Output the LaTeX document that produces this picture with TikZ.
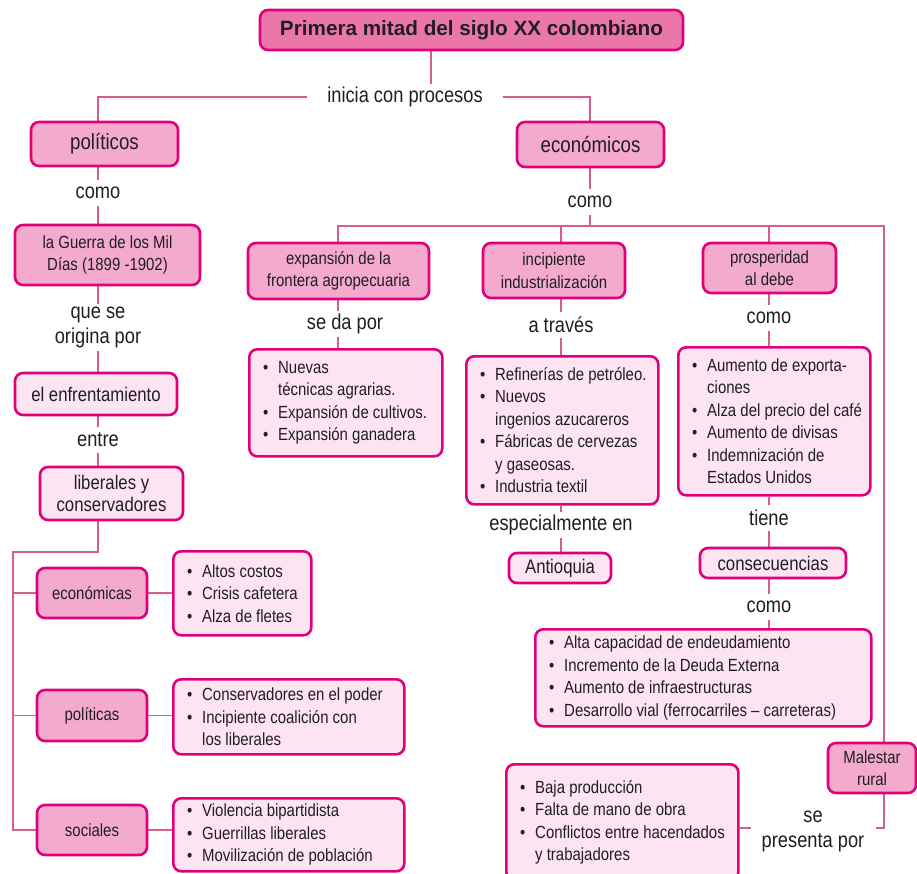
\documentclass[tikz,border=0pt]{standalone}
\usepackage{fontspec}
\setmainfont{Liberation Sans}[FakeStretch=0.85]
\newfontfamily\headfont{Liberation Sans}
\usetikzlibrary{backgrounds,positioning}

\definecolor{rim}{RGB}{226,0,122}
\definecolor{wire}{RGB}{214,92,150}
\definecolor{headfill}{RGB}{235,118,170}
\definecolor{deepfill}{RGB}{243,170,205}
\definecolor{palefill}{RGB}{252,229,240}
\definecolor{ink}{RGB}{32,30,32}

\newcommand{\itm}{\makebox[15pt][l]{\textbullet}}
\newcommand{\ind}{\hspace*{15pt}}

\tikzset{
  box/.style={draw=rim, line width=2.6pt, rounded corners=8pt, align=center, text=ink, inner sep=2pt},
  headbox/.style={box, fill=headfill, font=\headfont\bfseries\fontsize{20.7}{24}\selectfont},
  mainbox/.style={box, fill=deepfill, font=\fontsize{22}{26}\selectfont},
  catbox/.style={box, fill=deepfill, font=\fontsize{17.6}{22.5}\selectfont},
  softbox/.style={box, fill=palefill, font=\fontsize{19.7}{22.5}\selectfont},
  listbox/.style={box, fill=palefill, anchor=north west},
  listtext/.style={inner sep=0pt, anchor=west, align=left, text=ink, font=\fontsize{17.6}{22.5}\selectfont},
  word/.style={text=ink, inner sep=3pt, minimum height=26pt, align=center, font=\fontsize{21.5}{24.5}\selectfont},
  link/.style={draw=wire, line width=1.8pt}
}

\begin{document}
\begin{tikzpicture}[x=1pt,y=-1pt]
  \useasboundingbox (0,0) rectangle (917,874);
  \clip (0,0) rectangle (917,874);

  % top
  \node[headbox, minimum width=423pt, minimum height=40pt] (title) at (471.5,30) {Primera mitad del siglo XX colombiano};
  \coordinate (drop) at (431,66);
  \node[word, inner xsep=20pt] (inicia) at (405,97) {inicia con procesos};
  \node[mainbox, minimum width=147pt, minimum height=44pt] (pol) at (104.5,144) {políticos};
  \node[mainbox, minimum width=147pt, minimum height=45pt] (eco) at (590.5,144.5) {económicos};

  % left column
  \node[word] (como1) at (98,193) {como};
  \node[catbox, minimum width=185pt, minimum height=60pt] (guerra) at (107.5,255) {la Guerra de los Mil\\Días (1899 -1902)};
  \node[word] (origen) at (98,327.5) {que se\\origina por};
  \node[softbox, minimum width=162pt, minimum height=42pt] (choque) at (96,394) {el enfrentamiento};
  \node[word] (entre) at (98,440) {entre};
  \node[softbox, minimum width=143pt, minimum height=53pt] (bandos) at (111.5,493.5) {liberales y\\conservadores};
  \coordinate (rail) at (13,552);
  \node[catbox, minimum width=110pt, minimum height=50pt] (econ) at (92,593) {económicas};
  \node[catbox, minimum width=110pt, minimum height=51pt] (polit) at (92,715.5) {políticas};
  \node[catbox, minimum width=110pt, minimum height=50pt] (soc) at (92,830) {sociales};
  \node[listbox, minimum width=138pt, minimum height=84pt] (costos) at (172,550) {};
  \node[listtext, right=15pt of costos.west] (costostxt) {\itm Altos costos\\\itm Crisis cafetera\\\itm Alza de fletes};
  \node[listbox, minimum width=231pt, minimum height=75pt] (poder) at (172,678) {};
  \node[listtext, right=15pt of poder.west] (podertxt) {\itm Conservadores en el poder\\\itm Incipiente coalición con\\\ind los liberales};
  \node[listbox, minimum width=231pt, minimum height=73pt] (violencia) at (172,797) {};
  \node[listtext, right=15pt of violencia.west] (violenciatxt) {\itm Violencia bipartidista\\\itm Guerrillas liberales\\\itm Movilización de población};

  % economic branch
  \node[word] (como2) at (590,202) {como};
  \coordinate (barL) at (338,226);
  \coordinate (barR) at (884,226);
  \node[catbox, minimum width=181pt, minimum height=56pt] (frontera) at (338.5,271) {expansión de la\\frontera agropecuaria};
  \node[catbox, minimum width=142pt, minimum height=55pt] (indus) at (554,270.5) {incipiente\\industrialización};
  \node[catbox, minimum width=133pt, minimum height=50pt] (prosp) at (769.5,268) {prosperidad\\al debe};
  \node[word] (seda) at (345,324) {se da por};
  \node[word] (atraves) at (561,325) {a través};
  \node[word] (como3) at (769,318) {como};
  \node[listbox, minimum width=193pt, minimum height=107pt] (agro) at (248,348) {};
  \node[listtext, right=15pt of agro.west] (agrotxt) {\itm Nuevas\\\ind técnicas agrarias.\\\itm Expansión de cultivos.\\\itm Expansión ganadera};
  \node[listbox, minimum width=192pt, minimum height=148pt] (fabricas) at (465,355) {};
  \node[listtext, right=15pt of fabricas.west] (fabricastxt) {\itm Refinerías de petróleo.\\\itm Nuevos\\\ind ingenios azucareros\\\itm Fábricas de cervezas\\\ind y gaseosas.\\\itm Industria textil};
  \node[listbox, minimum width=192pt, minimum height=148pt] (auge) at (677,346) {};
  \node[listtext, right=15pt of auge.west] (augetxt) {\itm Aumento de exporta-\\\ind ciones\\\itm Alza del precio del café\\\itm Aumento de divisas\\\itm Indemnización de\\\ind Estados Unidos};
  \node[word] (espec) at (561,525) {especialmente en};
  \node[softbox, minimum width=102pt, minimum height=30pt] (antioquia) at (560,568) {Antioquia};
  \node[word] (tiene) at (769,518) {tiene};
  \node[softbox, minimum width=146pt, minimum height=30pt] (consec) at (773,563) {consecuencias};
  \node[word] (como4) at (769,607) {como};
  \node[listbox, minimum width=336pt, minimum height=97pt] (deuda) at (534,628) {};
  \node[listtext, right=15pt of deuda.west] (deudatxt) {\itm Alta capacidad de endeudamiento\\\itm Incremento de la Deuda Externa\\\itm Aumento de infraestructuras\\\itm Desarrollo vial (ferrocarriles – carreteras)};
  \node[catbox, minimum width=88pt, minimum height=50pt] (malestar) at (872,768) {Malestar\\rural};
  \coordinate (codo) at (884,828);
  \node[word, inner xsep=11pt] (presenta) at (813,831.5) {se\\presenta por};
  \node[listbox, minimum width=232pt, minimum height=116pt] (rural) at (505,763) {};
  \node[listtext, right=15pt of rural.west] (ruraltxt) {\itm Baja producción\\\itm Falta de mano de obra\\\itm Conflictos entre hacendados\\\ind y trabajadores};

  \begin{scope}[on background layer]
    \draw[link] (title.south -| drop) -- (inicia.north -| drop);
    \draw[link] (inicia.west) -| (pol.north -| como1);
    \draw[link] (inicia.east) -| (eco.north -| como2);
    % left
    \draw[link] (pol.south -| como1) -- (como1) -- (guerra.north -| como1);
    \draw[link] (guerra.south -| como1) -- (origen) -- (choque.north -| como1);
    \draw[link] (choque.south -| como1) -- (entre) -- (bandos.north -| como1);
    \draw[link] (bandos.south -| como1) |- (rail) -- (rail |- soc.west) -- (soc.west);
    \draw[link] (rail |- econ.west) -- (econ.west);
    \draw[link] (rail |- polit.west) -- (polit.west);
    \draw[link] (econ.east) -- (econ.east -| costos.west);
    \draw[link] (polit.east) -- (polit.east -| poder.west);
    \draw[link] (soc.east) -- (soc.east -| violencia.west);
    % right
    \draw[link] (eco.south -| como2) -- (como2) -- (como2 |- barR);
    \draw[link] (frontera.north -| barL) -- (barL) -- (barR) -- (malestar.north -| barR);
    \draw[link] (indus.north -| atraves) -- (atraves |- barR);
    \draw[link] (prosp.north -| como3) -- (como3 |- barR);
    \draw[link] (frontera.south -| barL) -- (seda.north -| barL);
    \draw[link] (seda.south -| barL) -- (agro.north -| barL);
    \draw[link] (indus.south -| atraves) -- (atraves) -- (fabricas.north -| atraves);
    \draw[link] (fabricas.south -| atraves) -- (espec) -- (antioquia.north -| atraves);
    \draw[link] (prosp.south -| como3) -- (como3) -- (auge.north -| como3);
    \draw[link] (auge.south -| como3) -- (tiene) -- (consec.north -| como3);
    \draw[link] (consec.south -| como3) -- (como4) -- (deuda.north -| como3);
    \draw[link] (malestar.south -| codo) -- (codo) -- (presenta.east |- codo);
    \draw[link] (presenta.west |- codo) -- (rural.east |- codo);
  \end{scope}
\end{tikzpicture}
\end{document}
